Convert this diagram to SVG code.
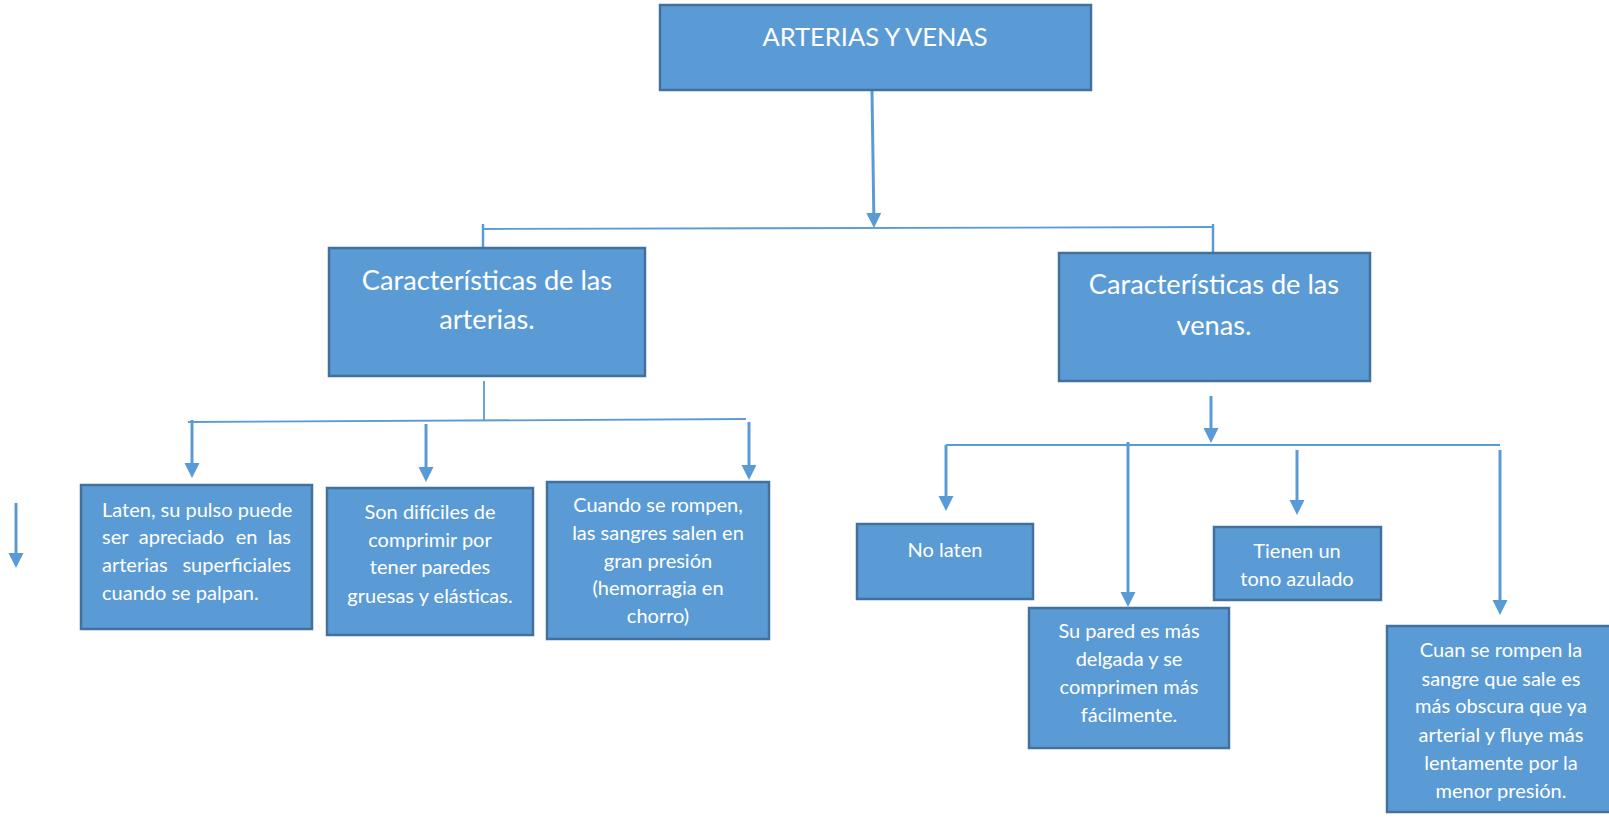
<svg xmlns="http://www.w3.org/2000/svg" width="1609" height="817" viewBox="0 0 1609 817">
<style>
.box{fill:#5B9BD5;stroke:#41719C;stroke-width:2.5}
.t{font-family:Lato,"Open Sans","Liberation Sans",sans-serif;fill:#FFFFFF;text-anchor:middle}
.big{font-size:25.5px}
.mid{font-size:27.2px}
.sm{font-size:20px}
.ln{stroke:#5B9BD5;stroke-width:1.8;fill:none}
.ar{stroke:#5B9BD5;stroke-width:3;fill:none;marker-end:url(#ah)}
</style>
<defs>
<marker id="ah" markerUnits="userSpaceOnUse" markerWidth="16" markerHeight="16" refX="1" refY="7.5" orient="auto">
<path d="M0,0 L15,7.5 L0,15 z" fill="#5B9BD5"/>
</marker>
</defs>
<rect width="1609" height="817" fill="#FFFFFF"/>
<g id="connectors">
<line class="ar" x1="872" y1="91" x2="873.8" y2="214"/>
<line class="ln" x1="483" y1="229" x2="1213" y2="227"/>
<line class="ln" x1="483" y1="224" x2="483" y2="247" style="stroke-width:2.5"/>
<line class="ln" x1="1213" y1="224" x2="1213" y2="252" style="stroke-width:2.5"/>
<line class="ln" x1="484" y1="381" x2="484" y2="421"/>
<line class="ln" x1="188" y1="422" x2="746" y2="419"/>
<line class="ar" x1="192" y1="420" x2="192" y2="464"/>
<line class="ar" x1="426" y1="424" x2="426" y2="468"/>
<line class="ar" x1="749" y1="422" x2="749" y2="466"/>
<line class="ar" x1="1211" y1="396" x2="1211" y2="429"/>
<line class="ln" x1="946" y1="445" x2="1500" y2="445"/>
<line class="ar" x1="946" y1="445" x2="946" y2="497"/>
<line class="ar" x1="1128" y1="442" x2="1128" y2="593"/>
<line class="ar" x1="1297" y1="450" x2="1297" y2="501"/>
<line class="ar" x1="1500" y1="450" x2="1500" y2="601"/>
<line class="ar" x1="16" y1="503" x2="16" y2="554"/>
</g>
<g id="n-top">
<rect class="box" x="660" y="5" width="431" height="85"/>
<text class="t big" x="875" y="46">ARTERIAS Y VENAS</text>
</g>
<g id="n-arterias">
<rect class="box" x="329" y="248" width="316" height="128"/>
<text class="t mid" x="487" y="290">Características de las</text>
<text class="t mid" x="487" y="329">arterias.</text>
</g>
<g id="n-venas">
<rect class="box" x="1059" y="253" width="311" height="128"/>
<text class="t mid" x="1214" y="294">Características de las</text>
<text class="t mid" x="1214" y="335">venas.</text>
</g>
<g id="n-laten">
<rect class="box" x="81" y="485" width="231" height="144"/>
<text class="t sm" x="102" y="517" style="text-anchor:start">Laten, su pulso puede</text>
<text class="t sm" x="102" y="544" style="text-anchor:start">ser</text>
<text class="t sm" x="181.5" y="544">apreciado</text>
<text class="t sm" x="246.5" y="544">en</text>
<text class="t sm" x="291" y="544" style="text-anchor:end">las</text>
<text class="t sm" x="102" y="572" style="text-anchor:start">arterias</text>
<text class="t sm" x="291" y="572" style="text-anchor:end">superficiales</text>
<text class="t sm" x="102" y="600" style="text-anchor:start">cuando se palpan.</text>
</g>
<g id="n-son">
<rect class="box" x="327" y="488" width="206" height="147"/>
<text class="t sm" x="430" y="519">Son difíciles de</text>
<text class="t sm" x="430" y="547">comprimir por</text>
<text class="t sm" x="430" y="574">tener paredes</text>
<text class="t sm" x="430" y="603">gruesas y elásticas.</text>
</g>
<g id="n-cuando">
<rect class="box" x="547" y="482" width="222" height="157"/>
<text class="t sm" x="658" y="512">Cuando se rompen,</text>
<text class="t sm" x="658" y="540">las sangres salen en</text>
<text class="t sm" x="658" y="567.5">gran presión</text>
<text class="t sm" x="658" y="595">(hemorragia en</text>
<text class="t sm" x="658" y="623">chorro)</text>
</g>
<g id="n-nolaten">
<rect class="box" x="857" y="524" width="176" height="75"/>
<text class="t sm" x="945" y="557">No laten</text>
</g>
<g id="n-supared">
<rect class="box" x="1029" y="608" width="200" height="140"/>
<text class="t sm" x="1129" y="638">Su pared es más</text>
<text class="t sm" x="1129" y="666">delgada y se</text>
<text class="t sm" x="1129" y="694">comprimen más</text>
<text class="t sm" x="1129" y="722">fácilmente.</text>
</g>
<g id="n-tienen">
<rect class="box" x="1214" y="527" width="167" height="73"/>
<text class="t sm" x="1297" y="558">Tienen un</text>
<text class="t sm" x="1297" y="586">tono azulado</text>
</g>
<g id="n-cuan">
<rect class="box" x="1387" y="626" width="229" height="186"/>
<text class="t sm" x="1501" y="657">Cuan se rompen la</text>
<text class="t sm" x="1501" y="686">sangre que sale es</text>
<text class="t sm" x="1501" y="713">más obscura que ya</text>
<text class="t sm" x="1501" y="742">arterial y fluye más</text>
<text class="t sm" x="1501" y="770">lentamente por la</text>
<text class="t sm" x="1501" y="798">menor presión.</text>
</g>
</svg>
